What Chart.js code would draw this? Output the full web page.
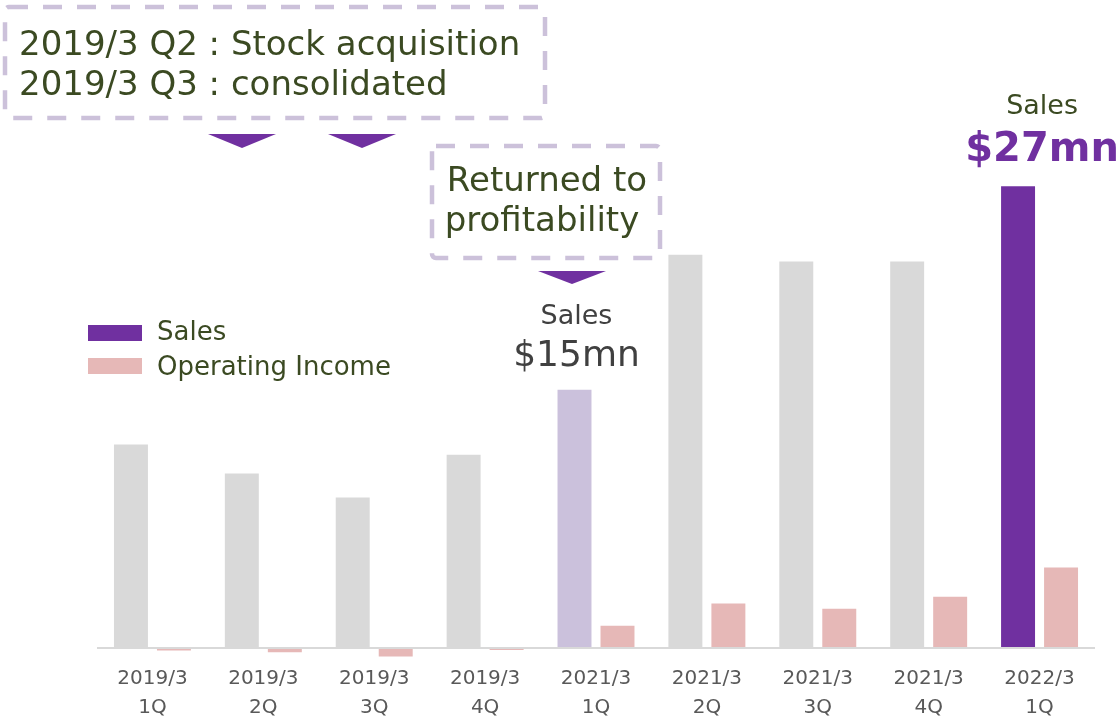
<!DOCTYPE html>
<html>
<head>
<meta charset="utf-8">
<script src="https://cdn.jsdelivr.net/npm/chart.js@4"></script>
<style>
  html, body { margin: 0; padding: 0; background: #fff; }
  #wrap { width: 1120px; height: 718px; }
</style>
</head>
<body>
<div id="wrap"><canvas id="myChart" width="1120" height="718"></canvas></div>
<script>
const categories = [
  ["2019/3", "1Q"], ["2019/3", "2Q"], ["2019/3", "3Q"], ["2019/3", "4Q"],
  ["2021/3", "1Q"], ["2021/3", "2Q"], ["2021/3", "3Q"], ["2021/3", "4Q"],
  ["2022/3", "1Q"]
];
const sales = [11.9, 10.2, 8.8, 11.3, 15.1, 23.0, 22.6, 22.6, 27.0];
const operatingIncome = [-0.15, -0.25, -0.5, -0.12, 1.3, 2.6, 2.3, 3.0, 4.7];
const salesColors = ["#d9d9d9", "#d9d9d9", "#d9d9d9", "#d9d9d9", "#cbc1dc",
  "#d9d9d9", "#d9d9d9", "#d9d9d9", "#7030a0"];

const FONT = "'DejaVu Sans', Verdana, sans-serif";
const OLIVE = "#3b4a22";
const PURPLE = "#7030a0";
const DASH = "#ccc1da";

function dashedBox(ctx, x, y, w, h) {
  ctx.save();
  ctx.strokeStyle = DASH;
  ctx.lineWidth = 4.5;
  ctx.setLineDash([19, 15]);
  ctx.beginPath();
  ctx.roundRect(x, y, w, h, 4);
  ctx.stroke();
  ctx.restore();
}

function triangle(ctx, x1, x2, y1, y2) {
  ctx.save();
  ctx.fillStyle = PURPLE;
  ctx.beginPath();
  ctx.moveTo(x1, y1);
  ctx.lineTo(x2, y1);
  ctx.lineTo((x1 + x2) / 2, y2);
  ctx.closePath();
  ctx.fill();
  ctx.restore();
}

const notes = {
  id: "notes",
  afterDraw(chart) {
    const ctx = chart.ctx;
    const bars = chart.getDatasetMeta(0).data;

    // callout boxes
    dashedBox(ctx, 5, 7, 540, 111);
    dashedBox(ctx, 432, 146, 228, 112);
    triangle(ctx, 208, 276, 134, 148);
    triangle(ctx, 328, 396, 134, 148);
    triangle(ctx, 538, 606, 271, 284);

    ctx.save();
    ctx.textBaseline = "middle";
    ctx.fillStyle = OLIVE;
    ctx.font = "34px " + FONT;
    ctx.textAlign = "left";
    ctx.fillText("2019/3 Q2 : Stock acquisition", 19, 46);
    ctx.fillText("2019/3 Q3 : consolidated", 19, 86);
    ctx.textAlign = "center";
    ctx.fillText("Returned to", 547, 182);
    ctx.fillText("profitability", 542, 222);

    // sales labels above bars
    const b15 = bars[4];
    ctx.fillStyle = "#404040";
    ctx.font = "27px " + FONT;
    ctx.fillText("Sales", b15.x + 2, 317);
    ctx.font = "36px " + FONT;
    ctx.fillText("$15mn", b15.x + 2, 357);

    const b27 = bars[8];
    ctx.fillStyle = OLIVE;
    ctx.font = "27px " + FONT;
    ctx.fillText("Sales", b27.x + 24, 107);
    ctx.fillStyle = PURPLE;
    ctx.font = "bold 40px " + FONT;
    ctx.fillText("$27mn", b27.x + 24, 151);

    // legend
    ctx.fillStyle = PURPLE;
    ctx.fillRect(88, 325, 54, 16);
    ctx.fillStyle = "#e6b8b7";
    ctx.fillRect(88, 358, 54, 16);
    ctx.fillStyle = OLIVE;
    ctx.font = "26px " + FONT;
    ctx.textAlign = "left";
    ctx.fillText("Sales", 157, 333);
    ctx.fillText("Operating Income", 157, 368);
    ctx.restore();
  }
};

new Chart(document.getElementById("myChart"), {
  type: "bar",
  data: {
    labels: categories,
    datasets: [
      {
        label: "Sales",
        data: sales,
        backgroundColor: salesColors,
        categoryPercentage: 0.7755,
        barPercentage: 0.79
      },
      {
        label: "Operating Income",
        data: operatingIncome,
        backgroundColor: "#e6b8b7",
        categoryPercentage: 0.7755,
        barPercentage: 0.79
      }
    ]
  },
  options: {
    responsive: false,
    animation: false,
    layout: { padding: { top: 135, left: 97, right: 25, bottom: 0 } },
    plugins: {
      legend: { display: false },
      tooltip: { enabled: false }
    },
    scales: {
      x: {
        grid: { display: false },
        border: { display: false },
        ticks: {
          color: "#595959",
          padding: -5,
          maxRotation: 0,
          font: { family: FONT, size: 20, lineHeight: 1.45 }
        },
        afterFit(scale) { scale.height = 57.2; }
      },
      y: {
        min: -0.75,
        max: 30,
        border: { display: false },
        ticks: { display: false },
        grid: { color: "#d9d9d9", lineWidth: 2, drawTicks: false },
        afterBuildTicks(scale) { scale.ticks = [{ value: 0 }]; },
        afterFit(scale) { scale.width = 0; }
      }
    }
  },
  plugins: [notes]
});
</script>
</body>
</html>
